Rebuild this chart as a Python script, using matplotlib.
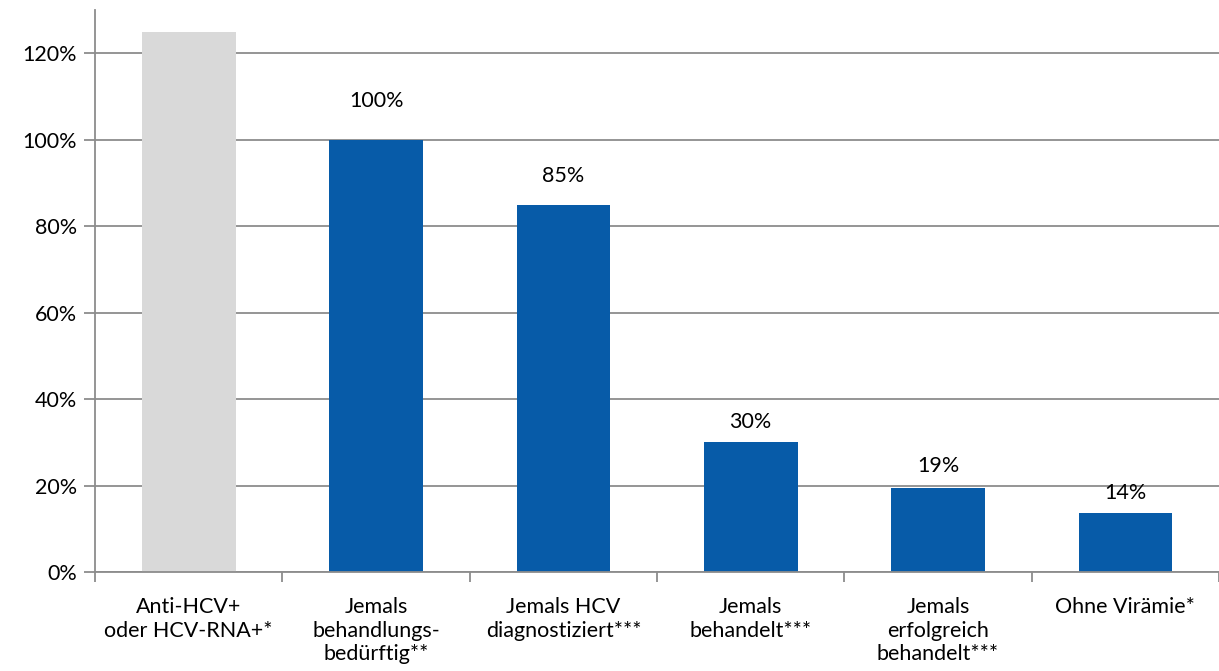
import matplotlib.pyplot as plt
from matplotlib.ticker import FixedLocator, PercentFormatter

categories = [
    "Anti-HCV+\noder HCV-RNA+*",
    "Jemals\nbehandlungs-\nbedürftig**",
    "Jemals HCV\ndiagnostiziert***",
    "Jemals\nbehandelt***",
    "Jemals\nerfolgreich\nbehandelt***",
    "Ohne Virämie*",
]
values = [125, 100, 85, 30, 19.5, 13.7]
value_labels = ["", "100%", "85%", "30%", "19%", "14%"]

plt.rcParams["font.family"] = ["Lato", "DejaVu Sans"]

grey = "#D9D9D9"
blue = "#075BA8"
line_col = "#8C8C8C"
fs = 15.5

fig = plt.figure(figsize=(12.19, 6.71), dpi=100)
ax = fig.add_axes([0.078, 0.1475, 0.922, 0.8375])

x = list(range(len(categories)))
colors = [grey] + [blue] * (len(categories) - 1)
ax.bar(x, values, width=0.5, color=colors, zorder=3)

# label gaps above bar tops (px), as placed in the original
offsets = [0, 29, 19, 10, 12, 10]
for xi, v, lab, off in zip(x, values, value_labels, offsets):
    if lab:
        ax.annotate(lab, (xi, v), xytext=(0, off * 0.72), textcoords="offset points",
                    ha="center", va="bottom", fontsize=fs, color="#000000")

ax.set_xlim(-0.5, len(categories) - 0.5)
ax.set_ylim(0, 130)
ax.yaxis.set_major_locator(FixedLocator([0, 20, 40, 60, 80, 100, 120]))
ax.yaxis.set_major_formatter(PercentFormatter(decimals=0))
ax.grid(axis="y", color=line_col, linewidth=1.3, zorder=0)

ax.set_xticks(x)
ax.set_xticklabels(categories, fontsize=fs, linespacing=1.22)
ax.xaxis.set_minor_locator(FixedLocator([i - 0.5 for i in range(len(categories) + 1)]))
ax.tick_params(axis="x", which="major", length=0, pad=18)
ax.tick_params(axis="x", which="minor", length=7, color=line_col, width=1.3)
ax.tick_params(axis="y", length=8, color=line_col, width=1.3, labelsize=fs, pad=5)

for side in ["top", "right"]:
    ax.spines[side].set_visible(False)
for side in ["left", "bottom"]:
    ax.spines[side].set_color(line_col)
    ax.spines[side].set_linewidth(1.3)
    ax.spines[side].set_zorder(4)

plt.savefig("out.png", dpi=100)
